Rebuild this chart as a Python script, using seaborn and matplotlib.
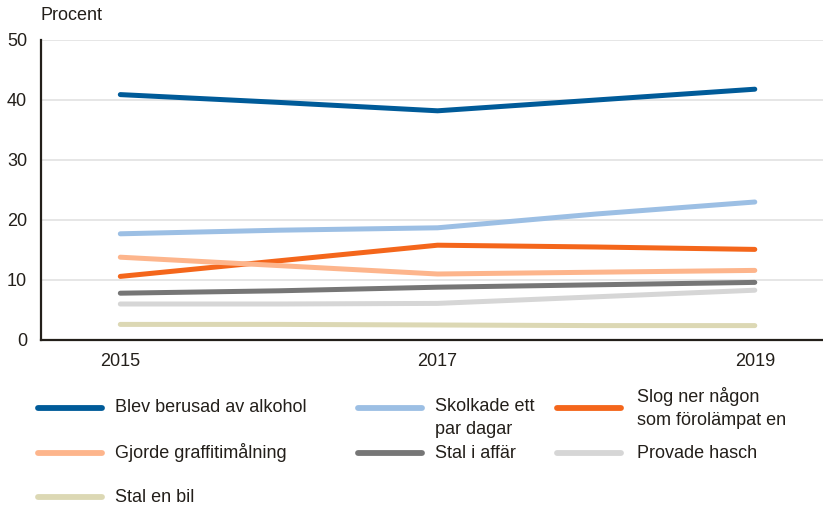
import matplotlib
matplotlib.use("Agg")
import matplotlib.pyplot as plt
from matplotlib.lines import Line2D
import seaborn as sns
import pandas as pd

years = [2015, 2016, 2017, 2018, 2019]
tick_years = [2015, 2017, 2019]

series_names = [
    "Blev berusad av alkohol",
    "Skolkade ett\npar dagar",
    "Slog ner någon\nsom förolämpat en",
    "Gjorde graffitimålning",
    "Stal i affär",
    "Provade hasch",
    "Stal en bil",
]
berusad = [40.9, 39.6, 38.2, 40.0, 41.8]
skolkade = [17.7, 18.3, 18.7, 21.0, 23.0]
slog_ner = [10.6, 13.2, 15.8, 15.5, 15.1]
graffiti = [13.8, 12.4, 11.0, 11.3, 11.6]
stal_affar = [7.8, 8.2, 8.8, 9.2, 9.6]
hasch = [6.0, 6.0, 6.1, 7.2, 8.3]
stal_bil = [2.6, 2.6, 2.5, 2.4, 2.4]
all_values = [berusad, skolkade, slog_ner, graffiti, stal_affar, hasch, stal_bil]

colors = ["#005B99", "#9CBFE4", "#F4661B", "#FDB58C", "#767676", "#D6D6D6", "#DCD8B4"]

df = pd.DataFrame(
    [(name, y, v) for name, vals in zip(series_names, all_values) for y, v in zip(years, vals)],
    columns=["serie", "year", "value"],
)

sns.set_style("white")
text_color = "#231F1A"
plt.rcParams["font.family"] = ["Liberation Sans", "DejaVu Sans"]
plt.rcParams["text.color"] = text_color
plt.rcParams["xtick.color"] = text_color
plt.rcParams["ytick.color"] = text_color

fig = plt.figure(figsize=(8.23, 5.09), dpi=100)
ax = fig.add_axes([41 / 823, 1 - 340 / 509, 1 - 41 / 823, 300 / 509])

sns.lineplot(
    data=df, x="year", y="value", hue="serie", hue_order=series_names,
    palette=colors, linewidth=3.6, legend=False, ax=ax,
    solid_capstyle="round", solid_joinstyle="round",
)

ax.set_xlim(2014.5, 2019.43)
ax.set_ylim(0, 50)
ax.set_yticks([0, 10, 20, 30, 40, 50])
ax.set_xticks(tick_years)
ax.set_xticklabels([str(y) for y in tick_years])
ax.tick_params(axis="both", length=0, labelsize=13)
ax.tick_params(axis="y", pad=10)
ax.tick_params(axis="x", pad=9)
ax.set_xlabel("")
ax.set_ylabel("")
ax.yaxis.grid(True, color="#E2E2E2", linewidth=1.2)
ax.set_axisbelow(True)
for side in ("top", "right"):
    ax.spines[side].set_visible(False)
for side in ("left", "bottom"):
    ax.spines[side].set_color(text_color)
    ax.spines[side].set_linewidth(1.6)

fig.text(40 / 823, 1 - 15 / 509, "Procent", fontsize=13, va="center", ha="left")

# Legend laid out in three columns below the chart
col_x = [38, 358, 557]
row_y = [408, 453, 497]
for i, (name, color) in enumerate(zip(series_names, colors)):
    r, c = divmod(i, 3)
    x0 = col_x[c]
    y = row_y[r]
    fig.add_artist(Line2D([x0 / 823, (x0 + 64) / 823], [1 - y / 509, 1 - y / 509],
                          color=color, linewidth=4.2, solid_capstyle="round",
                          transform=fig.transFigure))
    if "\n" in name and c == 1:
        fig.text((x0 + 77) / 823, 1 - (y - 10) / 509, name, fontsize=13,
                 va="top", ha="left", linespacing=1.45)
    else:
        fig.text((x0 + 77) / 823 if c != 2 else (x0 + 80) / 823, 1 - y / 509, name,
                 fontsize=13, va="center", ha="left", linespacing=1.45)

fig.savefig("out.png", dpi=100, facecolor="white")
